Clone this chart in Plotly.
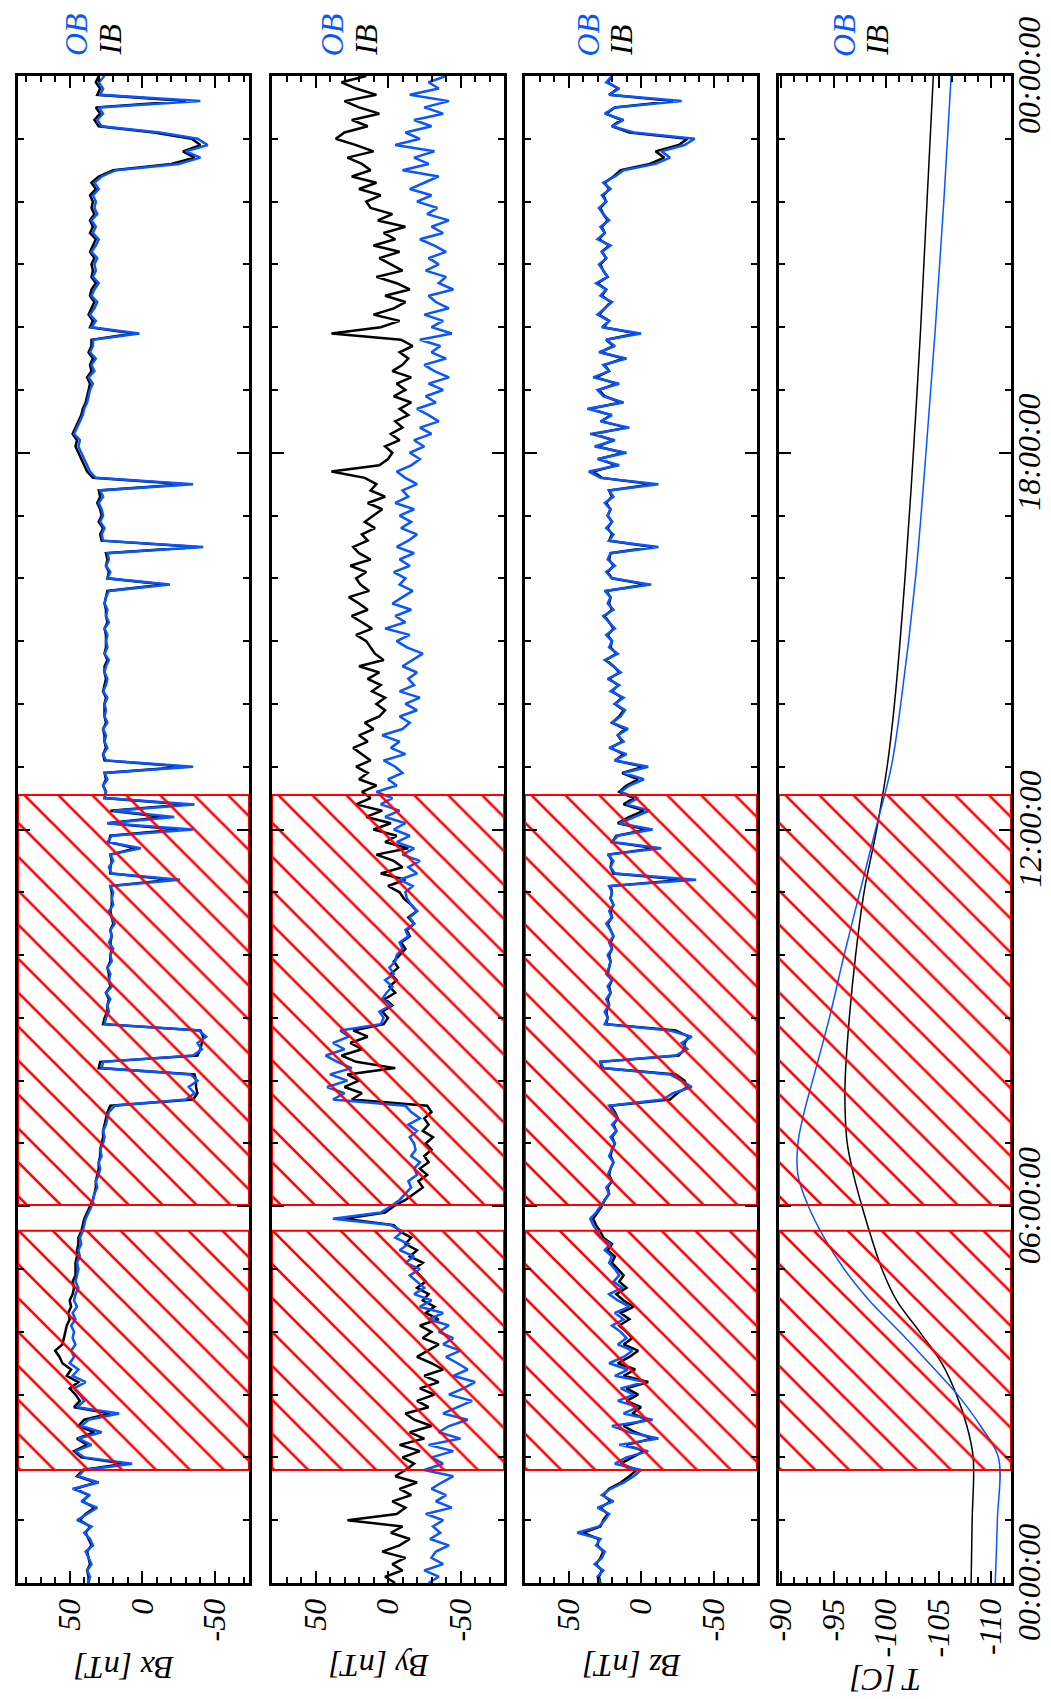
import plotly.graph_objects as go

# ---------------- data ----------------
HOURS = [i / 10 for i in range(241)]

BX_IB = [
    37, 37, 38, 36, 37, 38, 35, 37, 39, 36,
    43, 39, 33, 41, 37, 46, 32, 45, 41, 12,
    42, 47, 38, 45, 33, 44, 40, 22, 47, 43,
    46, 50, 44, 52, 49, 55, 57, 60, 55, 54,
    53, 52, 50, 51, 49, 50, 48, 47, 48, 46,
    46, 46, 45, 45, 44, 44, 42, 41, 40, 38,
    36, 34, 33, 32, 32, 31, 30, 30, 29, 29,
    28, 27, 27, 26, 25, 24, 22, -35, -38, -37,
    -37, -36, 30, 29, -38, -40, -41, -42, -40, 27,
    26, 24, 24, 23, 25, 22, 23, 23, 24, 22,
    22, 21, 22, 21, 22, 20, 21, 22, 21, 21,
    21, 22, -20, 22, 22, 21, 22, 5, 23, 22,
    -25, 24, -15, 22, -30, 26, 25, 27, 25, 26,
    -30, 26, 27, 25, 26, 26, 27, 25, 26, 26,
    26, 25, 27, 26, 25, 26, 26, 24, 26, 25,
    25, 25, 26, 24, 25, 25, 26, 25, 24, -15,
    24, 23, 25, 24, 25, -38, 28, 29, 27, 30,
    28, 29, 31, 29, 30, -30, 34, 38, 40, 42,
    44, 46, 45, 48, 46, 44, 42, 41, 39, 38,
    37, 36, 38, 35, 36, 34, 37, 35, 35, 6,
    36, 34, 37, 35, 33, 36, 35, 32, 35, 34,
    35, 33, 36, 34, 32, 36, 34, 36, 33, 35,
    34, 36, 32, 35, 30, 20, -20, -36, -28, -40,
    -34, -8, 30, 33, 29, 32, -30, 31, 29, 32,
    30,
]
BX_OB = [
    37, 36, 38, 35, 37, 39, 34, 36, 40, 35,
    45, 38, 31, 42, 36, 48, 30, 44, 40, 7,
    40, 46, 35, 44, 28, 42, 37, 16, 45, 40,
    43, 47, 39, 48, 44, 50, 47, 49, 46, 48,
    47, 49, 46, 48, 45, 47, 46, 44, 46, 45,
    44, 45, 43, 44, 42, 43, 41, 40, 39, 37,
    35, 34, 33, 31, 32, 30, 29, 30, 28, 29,
    27, 26, 27, 25, 24, 23, 19, -30, -36, -32,
    -38, -33, 28, 27, -35, -41, -38, -44, -39, 26,
    25, 23, 24, 22, 25, 21, 23, 22, 24, 21,
    22, 20, 23, 21, 22, 19, 21, 23, 20, 21,
    20, 22, -26, 21, 23, 20, 22, 1, 24, 21,
    -35, 24, -22, 20, -36, 26, 25, 27, 24, 26,
    -35, 25, 27, 24, 26, 25, 27, 24, 26, 25,
    26, 24, 27, 25, 24, 26, 25, 23, 26, 24,
    25, 24, 26, 23, 25, 24, 26, 25, 23, -19,
    24, 22, 25, 23, 24, -42, 27, 28, 26, 29,
    27, 28, 30, 27, 29, -35, 32, 36, 38, 40,
    42, 44, 43, 47, 45, 43, 41, 40, 38, 37,
    36, 34, 37, 33, 35, 32, 36, 34, 34, 2,
    35, 32, 36, 33, 31, 35, 33, 30, 34, 32,
    33, 31, 35, 32, 30, 34, 32, 35, 31, 33,
    32, 34, 30, 33, 28, 18, -25, -40, -30, -45,
    -38, -12, 28, 31, 27, 30, -40, 29, 27, 30,
    26,
]

BY_IB = [
    -5, 2, -10, -3, -12, 4, -8, -15, -2, -10,
    28, -6, -12, -3, -16, -8, -20, -5, -12, -18,
    -10, -22, -8, -25, -15, -30, -18, -12, -28, -20,
    -32, -22, -35, -25, -38, -30, -20, -28, -35, -24,
    -30, -22, -35, -26, -32, -24, -28, -20, -26, -22,
    -18, -24, -15, -20, -12, -16, -8, -4, 30, 2,
    -4, -12, -18, -24, -21, -27, -22, -28, -25, -30,
    -26, -31, -24, -28, -25, -30, -27, 25, 18, 30,
    20, 28, -5, 22, 32, 18, 26, 14, 24, 3,
    0, 4, -3, 2, -5, -1, -6, -2, -7, -4,
    -8, -12, -9, -15, -13, -18, -14, -20, -16, -11,
    -8, 0, -12, 5, -10, -4, 8, -14, 2, -6,
    10, -2, 15, 4, 22, 12, 18, 8, 20, 14,
    22, 12, 18, 24, 14, 20, 10, 16, 6, 2,
    8, 2, 11, 5, 14, 6, 20, 3, 9, 12,
    15, 22, 11, 18, 25, 14, 20, 27, 13, 19,
    22, 15, 26, 12, 20, 24, 14, 18, 9, 16,
    10, 4, 14, 2, 12, 8, 16, 39, 6, 0,
    -3, 2, -8, -2, -10, -5, -14, -8, -16, -4,
    -12, -6, -16, -3, -10, -14, -8, -17, -9, 39,
    5, -8, 10, -4, -12, 2, -15, -6, 8, -10,
    -2, 6, -8, 10, -5, 3, -12, 7, -3, 12,
    15, 5, 20, 8, 25, 12, 18, 28, 10, 22,
    36, 30, 14, 25, 6, 20, 30, 8, 22, 32,
    15,
]
BY_OB = [
    -28, -35, -25, -38, -30, -33, -42, -29, -36, -31,
    -38, -26, -44, -33, -40, -30, -37, -45, -25, -38,
    -30, -45, -28, -50, -35, -42, -55, -38, -48, -58,
    -42, -52, -60, -45, -55, -48, -40, -50, -38, -45,
    -35, -42, -28, -38, -22, -30, -18, -25, -20, -15,
    -22, -12, -18, -8, -14, -5, -10, -2, 38, 5,
    -2, -8, -12, -16, -14, -20, -18, -22, -16, -19,
    -18, -15, -20, -14, -22, -16, -12, 38, 30, 42,
    28, 40, 25, 35, 43, 30, 38, 27, 33, 5,
    3, 6, -2, 4, 1, -3, 2, -4, -1, -5,
    -6, -10, -8, -14, -12, -18, -15, -20, -16, -13,
    -12, -17, -8, -20, -14, -22, -10, -18, -6, -15,
    -4, -12, 2, -8, 5, -3, 8, -6, 0, -10,
    -5, 3, -12, -2, -8, 4, -10, -15, -8, -20,
    -12, -22, -8, -18, -14, -20, -10, -17, -24, -13,
    -6, -15, 2, -12, -5, -16, -3, -10, -17, -8,
    -12, -4, -15, -8, -18, -6, -14, -20, -9, -16,
    -8, -18, -5, -14, -10, -20, -12, -6, -16, -22,
    -15, -25, -18, -30, -22, -35, -28, -20, -33, -26,
    -38, -28, -42, -32, -25, -40, -30, -36, -22, -44,
    -30, -38, -25, -42, -33, -28, -45, -35, -40, -26,
    -35, -28, -40, -32, -22, -38, -30, -42, -27, -34,
    -20, -30, -15, -25, -35, -10, -28, -18, -32, -5,
    -22, -12, -30, -18, -38, -25, -42, -15, -35, -28,
    -40,
]

BZ_IB = [
    28, 29, 27, 31, 28, 26, 30, 29, 40, 28,
    26, 23, 28, 21, 26, 22, 14, 8, 3, 14,
    6, -2, 10, -8, 4, 12, -4, 6, 0, 10,
    2, 10, -5, 12, 4, 16, 8, 2, 12, 6,
    10, 15, 8, 14, 5, 12, 17, 10, 15, 12,
    16, 20, 18, 23, 20, 26, 28, 31, 33, 30,
    27, 25, 22, 23, 20, 22, 21, 19, 21, 20,
    18, 20, 17, 19, 16, 18, 21, -20, -25, -32,
    -30, -24, 27, 28, -26, -30, -30, -33, -24, 24,
    23, 24, 22, 23, 21, 22, 20, 23, 22, 21,
    22, 20, 21, 19, 21, 23, 20, 21, 19, 21,
    20, 21, -30, 19, 21, 20, 22, -10, 20, 17,
    -4, 16, 8, -2, 12, 5, 15, 10, 2, 13,
    -2, 18, 12, 21, 13, 16, 11, 20, 15, 12,
    18, 13, 20, 16, 22, 15, 19, 24, 17, 21,
    20, 23, 19, 22, 25, 20, 22, 21, 24, -4,
    20, 23, 19, 22, 21, -8, 22, 20, 23, 20,
    23, 21, 24, 20, 22, -8, 27, 33, 17, 29,
    12, 30, 19, 33, 10, 27, 21, 35, 14, 25,
    29, 17, 31, 22, 25, 12, 28, 19, 24, 3,
    26, 22, 29, 25, 21, 27, 24, 30, 23, 26,
    28, 24, 27, 22, 29, 25, 27, 23, 26, 28,
    24, 26, 22, 25, 19, 14, -6, -16, -10, -26,
    -32, 8, 20, 14, 24, 18, -22, 22, 16, 23,
    20,
]
BZ_OB = [
    28, 30, 26, 32, 27, 25, 31, 28, 44, 29,
    25, 22, 30, 19, 27, 21, 12, 5, 0, 18,
    10, -5, 15, -12, 8, 20, -8, 12, 2, 16,
    5, 14, -3, 18, 9, 22, 12, 6, 16, 10,
    14, 20, 12, 18, 8, 16, 22, 13, 19, 15,
    18, 22, 20, 25, 21, 28, 30, 33, 35, 31,
    28, 25, 22, 24, 20, 23, 21, 19, 22, 20,
    18, 21, 17, 20, 16, 19, 22, -15, -22, -35,
    -28, -20, 26, 28, -24, -32, -28, -35, -20, 25,
    23, 25, 22, 24, 21, 23, 20, 24, 22, 21,
    23, 20, 22, 19, 21, 24, 20, 22, 19, 21,
    20, 22, -38, 18, 21, 19, 23, -14, 20, 16,
    -8, 15, 5, -6, 10, 2, 14, 8, -2, 12,
    -5, 18, 10, 22, 12, 16, 9, 20, 14, 11,
    18, 12, 21, 15, 23, 14, 19, 25, 16, 22,
    20, 24, 18, 22, 26, 19, 23, 21, 25, -7,
    20, 24, 18, 23, 21, -12, 22, 19, 24, 20,
    23, 21, 25, 19, 22, -12, 28, 36, 15, 30,
    10, 32, 18, 35, 8, 28, 20, 37, 12, 26,
    30, 15, 33, 22, 26, 10, 29, 18, 24, 0,
    27, 22, 30, 25, 20, 28, 24, 31, 23, 26,
    29, 24, 27, 21, 30, 25, 28, 22, 26, 29,
    24, 27, 21, 26, 18, 12, -10, -20, -14, -30,
    -37, 5, 20, 12, 25, 18, -28, 22, 15, 24,
    20,
]

T_HOURS = [0, 1, 2, 2.5, 3, 3.5, 4, 4.5, 5, 5.5, 6, 6.5, 7, 7.5, 8,
           9, 10, 11, 12, 13, 14, 16, 18, 20, 22, 24]
T_IB = [-108.1, -108.2, -108.3, -107.7, -106.7, -105.3, -103.2, -101.0,
        -99.6, -98.6, -97.7, -96.9, -96.3, -96.1, -96.1, -96.5, -97.1,
        -97.9, -99.1, -100.1, -100.8, -101.8, -102.6, -103.3, -103.9, -104.5]
T_OB = [-110.4, -110.6, -110.7, -109.0, -106.8, -104.1, -101.3, -98.4,
        -96.0, -94.1, -92.6, -91.6, -91.6, -92.2, -93.0, -94.6, -96.0,
        -97.5, -99.0, -100.5, -101.4, -102.8, -103.8, -104.7, -105.5, -106.2]

# hatched (flagged) time intervals, hours
HATCH_INTERVALS = [(1.80, 5.61), (6.02, 12.55)]

TIME_TICKS = [0, 6, 12, 18, 24]
TIME_LABELS = ["00:00:00", "06:00:00", "12:00:00", "18:00:00", "00:00:00"]
B_TICKS = [50, 0, -50]
B_TICK_LABELS = ["50", "0", "-50"]
T_TICKS = [-90, -95, -100, -105, -110]
T_TICK_LABELS = ["-90", "-95", "-100", "-105", "-110"]

# ---------------- styling / layout ----------------
W, H = 1051, 1699
ML, MR, MT, MB = 10, 48, 68, 124
PW, PH = W - ML - MR, H - MT - MB

BLUE = "#0a55ff"
RED = "#ff0000"
FONT = "Liberation Serif"


def px_x(p):
    return (p - ML) / PW


def px_y(p):
    return (H - MB - p) / PH


PANELS = [
    dict(title="Bx [nT]", ib=BX_IB, ob=BX_OB, t=HOURS, rng=[85.6, -73.5],
         ticks=B_TICKS, labels=B_TICK_LABELS, minor=10, px=(10, 241), ty=1660, lw=2.5),
    dict(title="By [nT]", ib=BY_IB, ob=BY_OB, t=HOURS, rng=[80, -80],
         ticks=B_TICKS, labels=B_TICK_LABELS, minor=10, px=(264, 496), ty=1658, lw=2.5),
    dict(title="Bz [nT]", ib=BZ_IB, ob=BZ_OB, t=HOURS, rng=[80, -80],
         ticks=B_TICKS, labels=B_TICK_LABELS, minor=10, px=(517, 749), ty=1658, lw=2.5),
    dict(title="T [C]", ib=T_IB, ob=T_OB, t=T_HOURS, rng=[-89.8, -111.9],
         ticks=T_TICKS, labels=T_TICK_LABELS, minor=1.25, px=(771, 1003), ty=1672, lw=1.5),
]

fig = go.Figure()
layout = dict(
    width=W, height=H,
    margin=dict(l=ML, r=MR, t=MT, b=MB, autoexpand=False),
    paper_bgcolor="white", plot_bgcolor="white",
    showlegend=False,
    annotations=[],
)

tickfont = dict(family=FONT, size=32, color="black", style="italic")
SHIFT = -9  # compensate rotated-text box offset

for i, p in enumerate(PANELS, start=1):
    xa = "x" if i == 1 else f"x{i}"
    ya = "y" if i == 1 else f"y{i}"
    shape = "spline" if p["title"].startswith("T") else "linear"
    fig.add_trace(go.Scatter(x=p["ib"], y=p["t"], xaxis=xa, yaxis=ya, mode="lines",
                             line=dict(color="black", width=p["lw"], shape=shape),
                             hoverinfo="skip"))
    fig.add_trace(go.Scatter(x=p["ob"], y=p["t"], xaxis=xa, yaxis=ya, mode="lines",
                             line=dict(color=BLUE, width=p["lw"], shape=shape),
                             hoverinfo="skip"))
    r0, r1 = p["rng"]
    for (a, b) in HATCH_INTERVALS:
        fig.add_trace(go.Scatter(
            x=[r0, r1, r1, r0, r0], y=[a, a, b, b, a], xaxis=xa, yaxis=ya,
            mode="lines", fill="toself", fillcolor="rgba(0,0,0,0)",
            fillpattern=dict(shape="\\", size=24, solidity=0.11, fgcolor=RED,
                             fgopacity=1, bgcolor="rgba(0,0,0,0)", fillmode="overlay"),
            line=dict(color=RED, width=2), hoverinfo="skip"))

    xkey = "xaxis" if i == 1 else f"xaxis{i}"
    ykey = "yaxis" if i == 1 else f"yaxis{i}"
    layout[xkey] = dict(
        domain=[px_x(p["px"][0]), px_x(p["px"][1])], anchor=ya,
        range=p["rng"], tickmode="array", tickvals=p["ticks"], ticktext=p["labels"],
        ticks="inside", ticklen=12, tickwidth=2.2, tickcolor="black",
        minor=dict(tickmode="linear", tick0=0, dtick=p["minor"], ticks="inside",
                   ticklen=6, tickwidth=2, tickcolor="black", showgrid=False),
        tickangle=-90, tickfont=tickfont, automargin=False,
        showline=True, linewidth=3, linecolor="black", mirror="allticks",
        showgrid=False, zeroline=False, fixedrange=True,
    )
    last = i == len(PANELS)
    layout[ykey] = dict(
        domain=[0, 1], anchor=xa, range=[0, 24],
        tickmode="array", tickvals=TIME_TICKS, ticktext=TIME_LABELS,
        showticklabels=False, automargin=False,
        ticks="inside", ticklen=12, tickwidth=2.4, tickcolor="black",
        minor=dict(tickmode="linear", tick0=0, dtick=1, ticks="inside",
                   ticklen=6, tickwidth=2, tickcolor="black", showgrid=False),
        showline=True, linewidth=3, linecolor="black", mirror="allticks",
        showgrid=False, zeroline=False, fixedrange=True,
    )
    if last:
        for tv, tt in zip(TIME_TICKS, TIME_LABELS):
            layout["annotations"].append(dict(
                text=tt, xref="paper", yref=ya, x=px_x(1034 - 13), y=tv,
                xanchor="center", yanchor="middle", showarrow=False, textangle=-90,
                font=tickfont))
    cx = (p["px"][0] + p["px"][1]) / 2
    layout["annotations"].append(dict(
        text=p["title"], xref="paper", yref="paper", x=px_x(cx + SHIFT), y=px_y(p["ty"]),
        xanchor="center", yanchor="middle", showarrow=False, textangle=180,
        font=dict(family=FONT, size=32, color="black", style="italic")))
    left = p["px"][0]
    layout["annotations"].append(dict(
        text="OB", xref="paper", yref="paper", x=px_x(left + 67 + 2.3 * (i - 1) + SHIFT),
        y=px_y(27), xanchor="center", yanchor="middle", showarrow=False, textangle=-90,
        font=dict(family=FONT, size=32, color=BLUE, style="italic")))
    layout["annotations"].append(dict(
        text="IB", xref="paper", yref="paper", x=px_x(left + 101 + 2.2 * (i - 1) + SHIFT),
        y=px_y(32.5), xanchor="center", yanchor="middle", showarrow=False, textangle=-90,
        font=dict(family=FONT, size=32, color="black", style="italic")))

fig.update_layout(**layout)
fig.write_html("out.html")
